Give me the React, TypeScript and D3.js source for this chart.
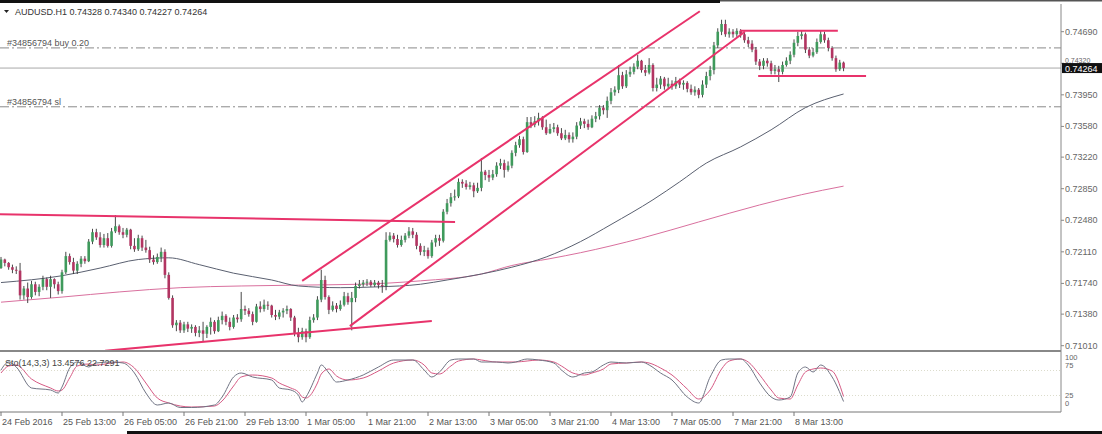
import * as d3 from 'd3';

const W = 1102;
const H = 434;

const headerText = 'AUDUSD.H1  0.74328 0.74340 0.74227 0.74264';
const stochText = 'Sto(14,3,3) 13.4576 22.7291';

// H1 bars, first one is 24 Feb 21:00; open of each bar = previous close
const firstOpen = 0.7192;
const closes = [
  0.7202, 0.7198, 0.7193, 0.7190, 0.7189, 0.7160, 0.7168, 0.7158, 0.7173, 0.7164,
  0.7170, 0.7179, 0.7170, 0.7179, 0.7173, 0.7165, 0.7187, 0.7206, 0.7199, 0.7189,
  0.7197, 0.7203, 0.7200, 0.7223, 0.7234, 0.7228, 0.7219, 0.7227, 0.7218, 0.7235,
  0.7241, 0.7234, 0.7231, 0.7237, 0.7218, 0.7214, 0.7227, 0.7216, 0.7213, 0.7202,
  0.7199, 0.7205, 0.7211, 0.7184, 0.7157, 0.7125, 0.7128, 0.7119, 0.7126, 0.7121,
  0.7123, 0.7116, 0.7119, 0.7115, 0.7123, 0.7129, 0.7118, 0.7131, 0.7136, 0.7129,
  0.7123, 0.7134, 0.7132, 0.7144, 0.7142, 0.7138, 0.7129, 0.7147, 0.7144, 0.7149,
  0.7148, 0.7137, 0.7135, 0.7140, 0.7142, 0.7144, 0.7134, 0.7116, 0.7111, 0.7118,
  0.7111, 0.7131, 0.7134, 0.7155, 0.7178, 0.7158, 0.7143, 0.7148, 0.7144, 0.7149,
  0.7159, 0.7152, 0.7157, 0.7171, 0.7173, 0.7175, 0.7176, 0.7172, 0.7175, 0.7172,
  0.7171, 0.7225, 0.7230, 0.7226, 0.7219, 0.7225, 0.7230, 0.7235, 0.7231, 0.7218,
  0.7211, 0.7213, 0.7206, 0.7222, 0.7227, 0.7224, 0.7258, 0.7268, 0.7275, 0.7276,
  0.7293, 0.7291, 0.7287, 0.7289, 0.7282, 0.7286, 0.7305, 0.7301, 0.7298, 0.7302,
  0.7312, 0.7315, 0.7307, 0.7312, 0.7327, 0.7336, 0.7343, 0.7328, 0.7363, 0.7360,
  0.7364, 0.7368, 0.7357, 0.7350, 0.7355, 0.7357, 0.7350, 0.7344, 0.7348, 0.7343,
  0.7346, 0.7359, 0.7364, 0.7361, 0.7357, 0.7367, 0.7370, 0.7380, 0.7377, 0.7388,
  0.7398, 0.7401, 0.7418, 0.7405, 0.7419, 0.7422, 0.7428, 0.7435, 0.7424, 0.7421,
  0.7430, 0.7403, 0.7407, 0.7414, 0.7405, 0.7408, 0.7405, 0.7411, 0.7407, 0.7409,
  0.7402, 0.7398, 0.7401, 0.7395, 0.7407, 0.7417, 0.7424, 0.7453, 0.7469, 0.7478,
  0.7466, 0.7469, 0.7466, 0.7470, 0.7466, 0.7459, 0.7455, 0.7448, 0.7434, 0.7429,
  0.7435, 0.7432, 0.7423, 0.7425, 0.7422, 0.7430, 0.7435, 0.7442, 0.7456, 0.7464,
  0.7466, 0.7448, 0.7441, 0.7445, 0.7457, 0.7466, 0.7459, 0.7450, 0.7438, 0.7425,
  0.74328, 0.74264,
];
const highs = [
  0.7205, 0.7203, 0.7199, 0.7196, 0.7194, 0.7198, 0.7171, 0.7175, 0.7177, 0.7176,
  0.7173, 0.7183, 0.7181, 0.7183, 0.7180, 0.7176, 0.7190, 0.7211, 0.7209, 0.7204,
  0.7200, 0.7206, 0.7206, 0.7226, 0.7238, 0.7238, 0.7234, 0.7232, 0.7233, 0.7239,
  0.7254, 0.7243, 0.7239, 0.7239, 0.7238, 0.7227, 0.7231, 0.7230, 0.7225, 0.7217,
  0.7207, 0.7209, 0.7216, 0.7214, 0.7187, 0.7160, 0.7131, 0.7131, 0.7129, 0.7129,
  0.7126, 0.7125, 0.7124, 0.7129, 0.7125, 0.7134, 0.7131, 0.7135, 0.7141, 0.7138,
  0.7134, 0.7137, 0.7138, 0.7164, 0.7148, 0.7145, 0.7141, 0.7150, 0.7153, 0.7155,
  0.7153, 0.7149, 0.7143, 0.7143, 0.7145, 0.7148, 0.7145, 0.7136, 0.7122, 0.7122,
  0.7121, 0.7135, 0.7138, 0.7159, 0.7190, 0.7183, 0.7160, 0.7153, 0.7151, 0.7154,
  0.7164, 0.7163, 0.7164, 0.7175, 0.7178, 0.7178, 0.7179, 0.7178, 0.7178, 0.7177,
  0.7178, 0.7234, 0.7234, 0.7233, 0.7231, 0.7230, 0.7233, 0.7240, 0.7239, 0.7234,
  0.7221, 0.7218, 0.7216, 0.7225, 0.7231, 0.7231, 0.7261, 0.7273, 0.7280, 0.7284,
  0.7297, 0.7296, 0.7295, 0.7293, 0.7292, 0.7292, 0.7321, 0.7307, 0.7307, 0.7307,
  0.7316, 0.7320, 0.7319, 0.7317, 0.7330, 0.7340, 0.7347, 0.7346, 0.7369, 0.7369,
  0.7370, 0.7374, 0.7370, 0.7366, 0.7361, 0.7362, 0.7360, 0.7356, 0.7354, 0.7351,
  0.7351, 0.7363, 0.7368, 0.7367, 0.7366, 0.7371, 0.7375, 0.7383, 0.7383, 0.7393,
  0.7403, 0.7405, 0.7430, 0.7422, 0.7424, 0.7428, 0.7432, 0.7442, 0.7436, 0.7430,
  0.7438, 0.7432, 0.7415, 0.7417, 0.7416, 0.7415, 0.7412, 0.7416, 0.7414, 0.7412,
  0.7411, 0.7407, 0.7405, 0.7403, 0.7412, 0.7422, 0.7429, 0.7457, 0.7473, 0.7483,
  0.7483, 0.7473, 0.7472, 0.7473, 0.7472, 0.7469, 0.7463, 0.7459, 0.7451, 0.7437,
  0.7438, 0.7438, 0.7435, 0.7430, 0.7429, 0.7434, 0.7439, 0.7446, 0.7460, 0.7469,
  0.7470, 0.7468, 0.7451, 0.7450, 0.7461, 0.7470, 0.7469, 0.7462, 0.7452, 0.7441,
  0.7436, 0.74340,
];
const lows = [
  0.7191, 0.7194, 0.7190, 0.7186, 0.7185, 0.7155, 0.7155, 0.7151, 0.7156, 0.7160,
  0.7159, 0.7166, 0.7166, 0.7157, 0.7168, 0.7161, 0.7162, 0.7185, 0.7196, 0.7185,
  0.7185, 0.7193, 0.7197, 0.7199, 0.7220, 0.7225, 0.7216, 0.7216, 0.7216, 0.7216,
  0.7233, 0.7231, 0.7227, 0.7228, 0.7214, 0.7211, 0.7212, 0.7212, 0.7210, 0.7198,
  0.7196, 0.7197, 0.7199, 0.7180, 0.7155, 0.7122, 0.7118, 0.7116, 0.7116, 0.7117,
  0.7116, 0.7112, 0.7111, 0.7106, 0.7110, 0.7114, 0.7115, 0.7117, 0.7126, 0.7125,
  0.7119, 0.7121, 0.7128, 0.7129, 0.7137, 0.7135, 0.7125, 0.7128, 0.7140, 0.7141,
  0.7143, 0.7134, 0.7131, 0.7132, 0.7134, 0.7138, 0.7130, 0.7112, 0.7105, 0.7108,
  0.7105, 0.7109, 0.7128, 0.7131, 0.7152, 0.7155, 0.7138, 0.7141, 0.7140, 0.7142,
  0.7147, 0.7149, 0.7119, 0.7152, 0.7168, 0.7170, 0.7171, 0.7170, 0.7170, 0.7168,
  0.7163, 0.7166, 0.7223, 0.7222, 0.7216, 0.7217, 0.7222, 0.7227, 0.7227, 0.7214,
  0.7207, 0.7206, 0.7203, 0.7204, 0.7217, 0.7218, 0.7222, 0.7255, 0.7264, 0.7271,
  0.7274, 0.7286, 0.7284, 0.7284, 0.7275, 0.7280, 0.7282, 0.7295, 0.7293, 0.7295,
  0.7299, 0.7308, 0.7298, 0.7305, 0.7309, 0.7323, 0.7333, 0.7325, 0.7327, 0.7356,
  0.7357, 0.7359, 0.7354, 0.7348, 0.7349, 0.7351, 0.7347, 0.7342, 0.7342, 0.7339,
  0.7339, 0.7343, 0.7355, 0.7356, 0.7354, 0.7356, 0.7363, 0.7366, 0.7372, 0.7368,
  0.7384, 0.7394, 0.7397, 0.7402, 0.7403, 0.7416, 0.7419, 0.7425, 0.7421, 0.7417,
  0.7419, 0.7399, 0.7399, 0.7402, 0.7401, 0.7403, 0.7401, 0.7402, 0.7403, 0.7401,
  0.7398, 0.7395, 0.7394, 0.7391, 0.7392, 0.7403, 0.7412, 0.7419, 0.7450, 0.7465,
  0.7463, 0.7462, 0.7462, 0.7463, 0.7462, 0.7456, 0.7451, 0.7445, 0.7430, 0.7424,
  0.7425, 0.7428, 0.7419, 0.7419, 0.7410, 0.7419, 0.7428, 0.7431, 0.7439, 0.7452,
  0.7460, 0.7444, 0.7438, 0.7439, 0.7443, 0.7455, 0.7456, 0.7446, 0.7435, 0.7422,
  0.7423, 0.74227,
];

// moving averages, sampled at bar indices
const maGrayIdx = [0, 16, 26, 36, 44, 52, 61, 71, 78, 89, 99, 110, 117, 126, 134, 143, 152, 160, 171, 178, 185, 194, 202, 211, 221];
const maGray = [0.7175, 0.7183, 0.7192, 0.7202, 0.7204, 0.7196, 0.7186, 0.7178, 0.7171, 0.7169, 0.7170, 0.7173, 0.7178, 0.7185, 0.7193, 0.7205, 0.7223, 0.7243, 0.7272, 0.7293, 0.7315, 0.7334, 0.7354, 0.7380, 0.7396];
const maPinkIdx = [0, 16, 31, 47, 63, 78, 94, 110, 126, 134, 144, 152, 168, 183, 199, 210, 221];
const maPink = [0.7152, 0.7158, 0.7164, 0.7169, 0.7171, 0.7172, 0.7173, 0.7177, 0.7185, 0.7195, 0.7203, 0.7210, 0.7227, 0.7246, 0.7266, 0.7278, 0.7288];

// stochastic (14,3,3)
const stochIdx = [0, 2, 4, 8, 13, 15, 16, 18, 20, 23, 25, 29, 32, 35, 38, 41, 44, 47, 50, 56, 58, 61, 63, 66, 71, 73, 76, 78, 79, 80, 83, 84, 86, 88, 91, 95, 99, 103, 108, 111, 113, 115, 118, 120, 124, 126, 130, 133, 135, 138, 141, 145, 147, 150, 153, 155, 158, 160, 164, 168, 170, 173, 176, 180, 183, 186, 189, 191, 194, 196, 199, 202, 204, 207, 209, 211, 213, 215, 218, 221];
const stochMain = [76, 92, 82, 40, 36, 30, 42, 80, 92, 82, 90, 92, 90, 70, 30, 6, 10, 1, 1, 6, 22, 62, 70, 62, 56, 40, 36, 26, 12, 22, 70, 86, 70, 52, 56, 66, 82, 96, 96, 76, 62, 72, 96, 98, 98, 92, 92, 90, 92, 98, 96, 90, 76, 62, 70, 72, 86, 92, 90, 92, 86, 70, 56, 22, 10, 62, 96, 98, 98, 86, 50, 22, 16, 22, 70, 82, 72, 86, 62, 13];
const stochSignal = [70, 84, 86, 58, 40, 34, 36, 60, 84, 88, 86, 90, 92, 80, 50, 20, 10, 4, 2, 4, 14, 44, 62, 66, 60, 50, 40, 32, 22, 20, 50, 68, 78, 64, 56, 60, 74, 90, 96, 86, 70, 68, 84, 94, 98, 96, 92, 92, 92, 94, 96, 92, 84, 70, 66, 70, 78, 88, 90, 92, 90, 80, 66, 38, 18, 36, 78, 94, 98, 92, 66, 36, 20, 18, 46, 72, 78, 80, 74, 23];
const stochLevels = [100, 75, 25, 0];

const priceTicks = ['0.71010', '0.71380', '0.71740', '0.72110', '0.72480', '0.72850', '0.73220', '0.73580', '0.73950', '0.74320', '0.74690'];
const timeLabels = ['24 Feb 2016', '25 Feb 13:00', '26 Feb 05:00', '26 Feb 21:00', '29 Feb 13:00', '1 Mar 05:00', '1 Mar 21:00', '2 Mar 13:00', '3 Mar 05:00', '3 Mar 21:00', '4 Mar 13:00', '7 Mar 05:00', '7 Mar 21:00', '8 Mar 13:00'];
const barsPerLabel = 16;

const orderLabels = ['#34856794 buy 0.20', '#34856794 sl'];
const orderPrices = [0.7450, 0.7381];
const lastPrice = 0.74264;

// trend lines as [barIndex0, price0, barIndex1, price1]
const trendLines = [
  [79, 0.7177, 183.3, 0.7493],
  [91.5, 0.7124, 195.1, 0.7469],
  [-0.3, 0.7255, 119.1, 0.7246],
  [27.3, 0.7095, 113.0, 0.7130],
  [193.8, 0.7470, 219.5, 0.7470],
  [198.6, 0.7417, 226.9, 0.7417],
];

const FONT = '"Liberation Sans", Arial, sans-serif';
const BULL = '#3f9a5c';
const BEAR = '#b23562';
const TREND = '#e8336b';

export default function App() {
  const axisX = 1061;
  const mainTop = 4;
  const mainBottom = 351;
  const stochBottom = 412;

  const x = d3.scaleLinear().domain([0, 208]).range([1, 794]);
  const y = d3.scaleLinear().domain([0.7101, 0.7469]).range([345.7, 31.7]);
  const ys = d3.scaleLinear().domain([0, 100]).range([408, 358]);

  const opens = [firstOpen, ...closes.slice(0, -1)];

  const maLine = d3
    .line<[number, number]>()
    .x((d) => x(d[0]))
    .y((d) => y(d[1]))
    .curve(d3.curveMonotoneX);
  const stLine = d3
    .line<[number, number]>()
    .x((d) => x(d[0]))
    .y((d) => ys(d[1]))
    .curve(d3.curveMonotoneX);

  const grayPath = maLine(maGrayIdx.map((i, k) => [i, maGray[k]] as [number, number])) || '';
  const pinkPath = maLine(maPinkIdx.map((i, k) => [i, maPink[k]] as [number, number])) || '';
  const mainPath = stLine(stochIdx.map((i, k) => [i, stochMain[k]] as [number, number])) || '';
  const sigPath = stLine(stochIdx.map((i, k) => [i, stochSignal[k]] as [number, number])) || '';

  const bw = 2.6;
  const boxTop = y(lastPrice) - 5;

  // MT4 squeezes the level captions against the panel edges
  const stochLabelY = (lv: number) =>
    lv > 50 ? ys(100) + 2 + ((100 - lv) / 25) * 8 : ys(0) - 2 - (lv / 25) * 8;

  return (
    <svg
      width={W}
      height={H}
      viewBox={`0 0 ${W} ${H}`}
      style={{ position: 'absolute', left: 0, top: 0, background: '#fff', display: 'block' }}
    >
      <defs>
        <clipPath id="mainClip">
          <rect x={0} y={mainTop} width={axisX} height={mainBottom - mainTop - 1} />
        </clipPath>
        <clipPath id="stochClip">
          <rect x={0} y={mainBottom + 1} width={axisX} height={stochBottom - mainBottom - 1} />
        </clipPath>
      </defs>
      <rect x={0} y={0} width={W} height={H} fill="#fff" />

      {/* order lines and bid line */}
      {orderPrices.map((p, k) => (
        <g key={'o' + k}>
          <line x1={0} x2={axisX} y1={y(p)} y2={y(p)} stroke="#8a8a8a" strokeWidth={1} strokeDasharray="9,3,2,3" />
          <text x={7} y={y(p) - 2} fontFamily={FONT} fontSize={9} fill="#555">
            {orderLabels[k]}
          </text>
        </g>
      ))}
      <line x1={0} x2={axisX} y1={y(lastPrice)} y2={y(lastPrice)} stroke="#a8a8a8" strokeWidth={1} />

      <g clipPath="url(#mainClip)">
        <path d={pinkPath} fill="none" stroke="#d9709e" strokeWidth={1} />
        <path d={grayPath} fill="none" stroke="#5a6070" strokeWidth={1} />

        {closes.map((c, i) => {
          const o = opens[i];
          const hi = Math.max(highs[i], o, c);
          const lo = Math.min(lows[i], o, c);
          const cx = x(i);
          const top = y(Math.max(o, c));
          const bh = Math.max(1, Math.abs(y(o) - y(c)));
          return (
            <g key={i}>
              <line x1={cx} x2={cx} y1={y(hi)} y2={y(lo)} stroke="#333" strokeWidth={0.9} />
              <rect x={cx - bw / 2} y={top} width={bw} height={bh} fill={c >= o ? BULL : BEAR} />
            </g>
          );
        })}

        {trendLines.map((t, k) => (
          <line
            key={'t' + k}
            x1={x(t[0])}
            y1={y(t[1])}
            x2={x(t[2])}
            y2={y(t[3])}
            stroke={TREND}
            strokeWidth={2}
          />
        ))}
      </g>

      {/* header */}
      <path d="M4,10 L9,10 L6.5,13 Z" fill="#222" />
      <text x={15} y={15} fontFamily={FONT} fontSize={9} fill="#333">
        {headerText}
      </text>

      {/* stochastic panel */}
      {[75, 25].map((lv) => (
        <line key={'lv' + lv} x1={0} x2={axisX} y1={ys(lv)} y2={ys(lv)} stroke="#dcdccc" strokeDasharray="1,2" />
      ))}
      <g clipPath="url(#stochClip)">
        <path d={sigPath} fill="none" stroke="#d65a84" strokeWidth={1} />
        <path d={mainPath} fill="none" stroke="#707484" strokeWidth={1} />
      </g>
      <text x={5} y={366} fontFamily={FONT} fontSize={9} fill="#444">
        {stochText}
      </text>

      {/* frame */}
      <rect x={0} y={0} width={720} height={3} fill="#111" />
      <rect x={720} y={0} width={W - 720} height={1.5} fill="#555" />
      <line x1={0} x2={axisX} y1={mainBottom} y2={mainBottom} stroke="#888" strokeWidth={2} />
      <line x1={0} x2={axisX} y1={stochBottom} y2={stochBottom} stroke="#777" strokeWidth={1} />
      <line x1={axisX} x2={axisX} y1={mainTop} y2={stochBottom} stroke="#888" strokeWidth={1} />

      {/* price axis */}
      {priceTicks.map((t) => {
        const ty = y(+t);
        // the label that sits under the bid box is pushed just above it
        const hidden = Math.abs(ty - y(lastPrice)) < 9;
        return (
          <g key={t}>
            <line x1={axisX} x2={axisX + 3} y1={ty} y2={ty} stroke="#888" />
            <text x={axisX + 4} y={hidden ? boxTop - 0.5 : ty + 3} fontFamily={FONT} fontSize={hidden ? 7 : 9} fill="#666">
              {t}
            </text>
          </g>
        );
      })}
      <rect x={axisX + 1} y={boxTop} width={W - axisX - 1} height={10} fill="#111" />
      <text x={axisX + 4} y={y(lastPrice) + 3.5} fontFamily={FONT} fontSize={9} fill="#fff">
        {lastPrice.toFixed(5)}
      </text>

      {/* stochastic axis */}
      {stochLevels.map((lv) => (
        <text key={'sl' + lv} x={axisX + 4} y={stochLabelY(lv)} fontFamily={FONT} fontSize={7.5} fill="#666">
          {lv}
        </text>
      ))}

      {/* time axis */}
      {timeLabels.map((t, k) => {
        const tx = x(k * barsPerLabel);
        return (
          <g key={t}>
            <line x1={tx} x2={tx} y1={stochBottom} y2={stochBottom + 4} stroke="#777" />
            <text x={tx + 1} y={425} fontFamily={FONT} fontSize={9} fill="#555">
              {t}
            </text>
          </g>
        );
      })}
      <rect x={127} y={431} width={W - 127} height={3} fill="#111" />
    </svg>
  );
}
